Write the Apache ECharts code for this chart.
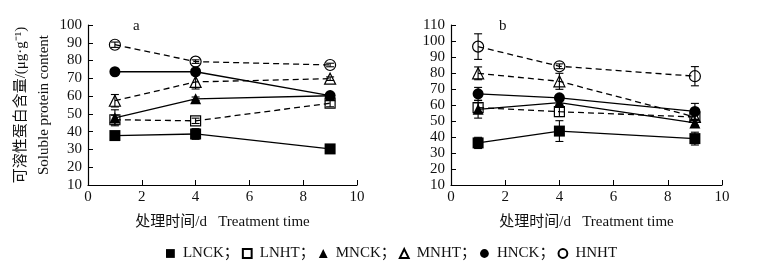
<!DOCTYPE html>
<html><head><meta charset="utf-8">
<script src="https://cdn.jsdelivr.net/npm/echarts@6/dist/echarts.min.js"></script>
<style>html,body{margin:0;padding:0;background:#fff}#c{width:781px;height:269px}</style>
</head><body><div id="c"></div>
<script>
var days = [1, 4, 9];
var names = ['LNCK', 'LNHT', 'MNCK', 'MNHT', 'HNCK', 'HNHT'];
// panel a
var aLNCK = [37.8, 38.7, 30.3];
var aLNHT = [46.7, 46.1, 56.0];
var aMNCK = [47.8, 58.5, 60.2];
var aMNHT = [57.4, 68.0, 69.8];
var aHNCK = [73.7, 73.7, 60.3];
var aHNHT = [88.9, 79.4, 77.5];
var aErrLNCK = [1, 3, 1];
var aErrLNHT = [2.5, 1.5, 2];
var aErrMNCK = [4.5, 1, 1];
var aErrMNHT = [3.5, 4, 1];
var aErrHNCK = [1.5, 1, 1];
var aErrHNHT = [1.5, 1, 1];
// panel b
var bLNCK = [36.3, 43.7, 39.0];
var bLNHT = [58.4, 55.8, 52.5];
var bMNCK = [57.3, 61.5, 48.8];
var bMNHT = [79.8, 74.8, 52.5];
var bHNCK = [67.0, 64.5, 56.0];
var bHNHT = [96.5, 84.2, 78.0];
var bErrLNCK = [3.5, 6.5, 4];
var bErrLNHT = [3, 3, 1.5];
var bErrMNCK = [5.5, 1.5, 1.5];
var bErrMNHT = [4, 5, 1.5];
var bErrHNCK = [4, 1.5, 5];
var bErrHNHT = [8, 1.5, 6];
var xTicks = [0, 2, 4, 6, 8, 10];

var FONT = '"Liberation Serif","Noto Sans CJK SC",serif';
var panels = [
  {vals: [aLNCK, aLNHT, aMNCK, aMNHT, aHNCK, aHNHT], errs: [aErrLNCK, aErrLNHT, aErrMNCK, aErrMNHT, aErrHNCK, aErrHNHT]},
  {vals: [bLNCK, bLNHT, bMNCK, bMNHT, bHNCK, bHNHT], errs: [bErrLNCK, bErrLNHT, bErrMNCK, bErrMNHT, bErrHNCK, bErrHNHT]}
];
var symbols = ['rect', 'rect', 'triangle', 'triangle', 'circle', 'circle'];
var hollow = [false, true, false, true, false, true];
var sizes = [11, 10, 11, 11, 11, 11];

var series = [];
panels.forEach(function (p, pi) {
  var errData = [];
  p.vals.forEach(function (v, si) {
    v.forEach(function (y, k) {
      errData.push([days[k], y - p.errs[si][k], y + p.errs[si][k]]);
    });
  });
  series.push({
    type: 'custom', xAxisIndex: pi, yAxisIndex: pi, silent: true, z: 3,
    data: errData,
    encode: {x: 0, y: [1, 2]},
    renderItem: function (params, api) {
      var x = api.value(0);
      var lo = api.coord([x, api.value(1)]);
      var hi = api.coord([x, api.value(2)]);
      var cw = 4;
      var st = {stroke: '#000', lineWidth: 1.1};
      return {type: 'group', children: [
        {type: 'line', shape: {x1: lo[0], y1: lo[1], x2: hi[0], y2: hi[1]}, style: st},
        {type: 'line', shape: {x1: lo[0] - cw, y1: lo[1], x2: lo[0] + cw, y2: lo[1]}, style: st},
        {type: 'line', shape: {x1: hi[0] - cw, y1: hi[1], x2: hi[0] + cw, y2: hi[1]}, style: st}
      ]};
    }
  });
  p.vals.forEach(function (v, si) {
    series.push({
      name: names[si], type: 'line', xAxisIndex: pi, yAxisIndex: pi, z: 4,
      data: v.map(function (y, k) { return [days[k], y]; }),
      symbol: symbols[si], symbolSize: sizes[si], showSymbol: true,
      lineStyle: {color: '#000', width: 1.3, type: hollow[si] ? [6, 4] : 'solid'},
      itemStyle: hollow[si] ? {color: 'rgba(255,255,255,0)', borderColor: '#000', borderWidth: 1.2} : {color: '#000', borderColor: '#000', borderWidth: 0},
      emphasis: {disabled: true},
      animation: false
    });
  });
});

function xAxis(gi) {
  return {type: 'value', gridIndex: gi, min: 0, max: 10, interval: 2,
    name: '处理时间/d   Treatment time', nameLocation: 'middle', nameGap: 30,
    nameTextStyle: {fontFamily: FONT, fontSize: 15, color: '#111'},
    axisLine: {lineStyle: {color: '#000', width: 1.2}},
    axisTick: {inside: true, length: 5, lineStyle: {color: '#000'}},
    axisLabel: {fontFamily: FONT, fontSize: 15, color: '#111', margin: 5},
    splitLine: {show: false}};
}
function yAxis(gi, max, name) {
  return {type: 'value', gridIndex: gi, min: 10, max: max, interval: 10,
    name: name, nameLocation: 'middle', nameGap: 31,
    nameTextStyle: {fontFamily: FONT, fontSize: 15, color: '#111', lineHeight: 23},
    axisLine: {show: true, lineStyle: {color: '#000', width: 1.2}},
    axisTick: {show: true, inside: true, length: 5, lineStyle: {color: '#000'}},
    axisLabel: {fontFamily: FONT, fontSize: 15, color: '#111', margin: 6},
    splitLine: {show: false}};
}

var legendData = names.map(function (n, i) { return {name: n}; });

var option = {
  animation: false,
  backgroundColor: '#fff',
  title: [
    {text: 'a', left: 128, top: 14, textStyle: {fontFamily: FONT, fontSize: 15, fontWeight: 'normal', color: '#111'}},
    {text: 'b', left: 494, top: 14, textStyle: {fontFamily: FONT, fontSize: 15, fontWeight: 'normal', color: '#111'}}
  ],
  grid: [
    {left: 88, top: 25, width: 269, height: 160},
    {left: 451, top: 25, width: 271, height: 160}
  ],
  xAxis: [xAxis(0), xAxis(1)],
  yAxis: [yAxis(0, 100, '可溶性蛋白含量/(μg·g⁻¹)\nSoluble protein content'), yAxis(1, 110, '')],
  legend: {
    data: legendData, left: 380, top: 241, itemWidth: 11, itemHeight: 11, itemGap: 2,
    left: 'center',
    lineStyle: {opacity: 0},
    textStyle: {fontFamily: FONT, fontSize: 15, color: '#111', padding: [0, 0, 0, 2]},
    formatter: function (n) { return n === 'HNHT' ? n : n + '；'; }
  },
  series: series
};
var chart = echarts.init(document.getElementById('c'), null, {renderer: 'canvas'});
chart.setOption(option);
</script>
</body></html>
